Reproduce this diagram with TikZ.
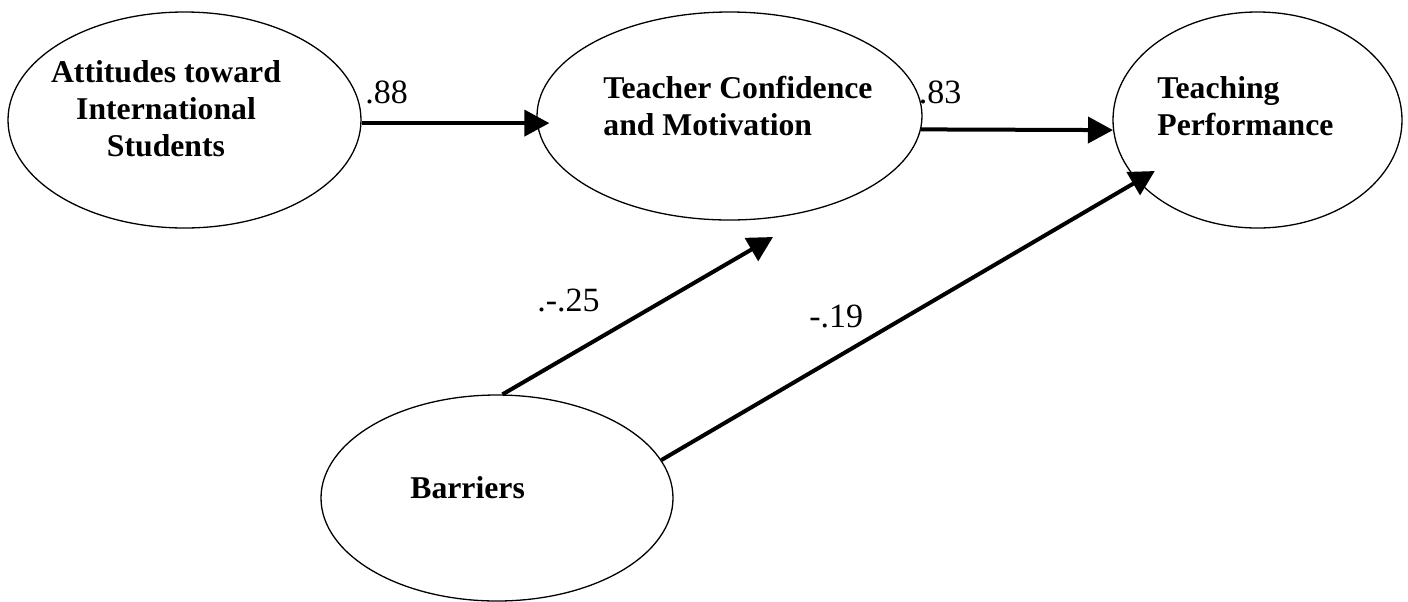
\documentclass[tikz,border=0pt]{standalone}
\usepackage{fontspec}
\setmainfont{Liberation Serif}
\usetikzlibrary{shapes.geometric,arrows.meta}
\begin{document}
\begin{tikzpicture}[x=0.5pt,y=-0.5pt,
  ell/.style={draw,ellipse,line width=0.65pt,inner sep=0pt},
  vname/.style={font=\fontsize{15.85}{18.3}\selectfont\bfseries,inner sep=0pt},
  coef/.style={font=\fontsize{17}{20}\selectfont,inner sep=0pt,anchor=base west},
  arr/.style={line width=2pt,-{Triangle[length=12.5pt,width=13pt]}}]
\useasboundingbox (0,0) rectangle (1408,601);
\node[ell,minimum width=176.5pt,minimum height=108pt] (A) at (184.5,120) {};
\node[ell,minimum width=192.5pt,minimum height=104pt] (B) at (729.5,116) {};
\node[ell,minimum width=144.5pt,minimum height=108pt] (C) at (1257.5,120) {};
\node[ell,minimum width=176pt,minimum height=103pt] (D) at (497,498) {};
\node[vname,align=center,anchor=base] (tA) at (166,156) {Attitudes toward\\International\\Students};
\node[vname,align=left,anchor=base west] (tB) at (603,135) {Teacher Confidence\\and Motivation};
\node[vname,align=left,anchor=base west] (tC) at (1157,135) {Teaching\\Performance};
\node[vname,anchor=base west] (tD) at (410,498) {Barriers};
\node[coef] (l88) at (365,103) {.88};
\node[coef] (l83) at (918.5,103) {.83};
\node[coef] (l25) at (537,311) {.-.25};
\node[coef] (l19) at (809,327) {-.19};
\coordinate (t3) at (773,237);
\draw[arr,shorten >=-6.5pt] (A.-1) -- (A.-1 -| B.west);
\draw[arr] (B.-4.8) -- (C.184.8);
\draw[arr] (D.87) -- (t3);
\draw[arr,shorten >=-10pt] (D.13.6) -- (C.207.8);
\end{tikzpicture}
\end{document}
